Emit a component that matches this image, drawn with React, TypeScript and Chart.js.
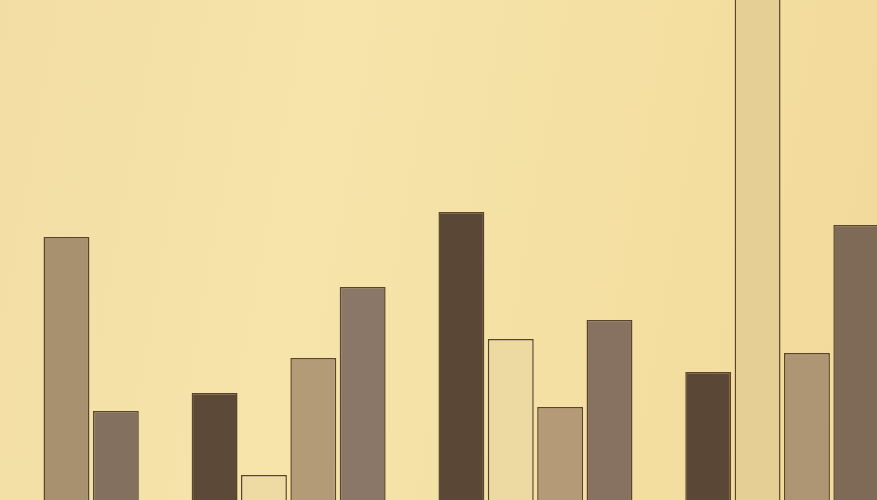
import React, { useEffect, useRef } from "react";
import { Chart, registerables } from "chart.js";

Chart.register(...registerables);

const categories: string[] = [
  "A3", "A4", "", "B1", "B2", "B3", "B4", "", "C1", "C2", "C3", "C4", "", "D1", "D2", "D3", "D4",
];

const values: (number | null)[] = [
  52.6, 17.8, null, 21.4, 5, 28.4, 42.6, null, 57.6, 32.2, 18.6, 36, null, 25.6, 115, 29.4, 55,
];

const barColors: string[] = [
  "#a8916e", "#84705f", "#ffffff", "#5c4937", "#eedba4", "#b39b77", "#8a7767", "#ffffff",
  "#5a4736", "#eddaa2", "#b49a76", "#877262", "#ffffff", "#5b4735", "#e6cf95", "#ae9574", "#7f6a58",
];

export default function App() {
  const ref = useRef<HTMLCanvasElement | null>(null);

  useEffect(() => {
    if (!ref.current) return;
    const chart = new Chart(ref.current, {
      type: "bar",
      data: {
        labels: categories,
        datasets: [
          {
            data: values,
            backgroundColor: barColors,
            borderColor: "#5a4430",
            borderWidth: 1.5,
            barPercentage: 0.93,
            categoryPercentage: 1,
          },
        ],
      },
      options: {
        animation: false,
        responsive: true,
        maintainAspectRatio: false,
        layout: { padding: { left: 41.8, right: 0, top: 0, bottom: 0 } },
        plugins: { legend: { display: false }, tooltip: { enabled: false } },
        scales: {
          x: { display: false },
          y: { display: false, min: 0, max: 100 },
        },
      },
    });
    return () => chart.destroy();
  }, []);

  return (
    <div
      style={{
        position: "fixed",
        left: 0,
        top: 0,
        width: 877,
        height: 500,
        overflow: "hidden",
        background:
          "linear-gradient(100deg, #f2dea4 0%, #f6e4aa 35%, #f4e0a2 65%, #f1d99a 100%)",
      }}
    >
      <div style={{ position: "absolute", left: 0, top: 0, width: 881, height: 500 }}>
        <canvas ref={ref} />
      </div>
    </div>
  );
}
